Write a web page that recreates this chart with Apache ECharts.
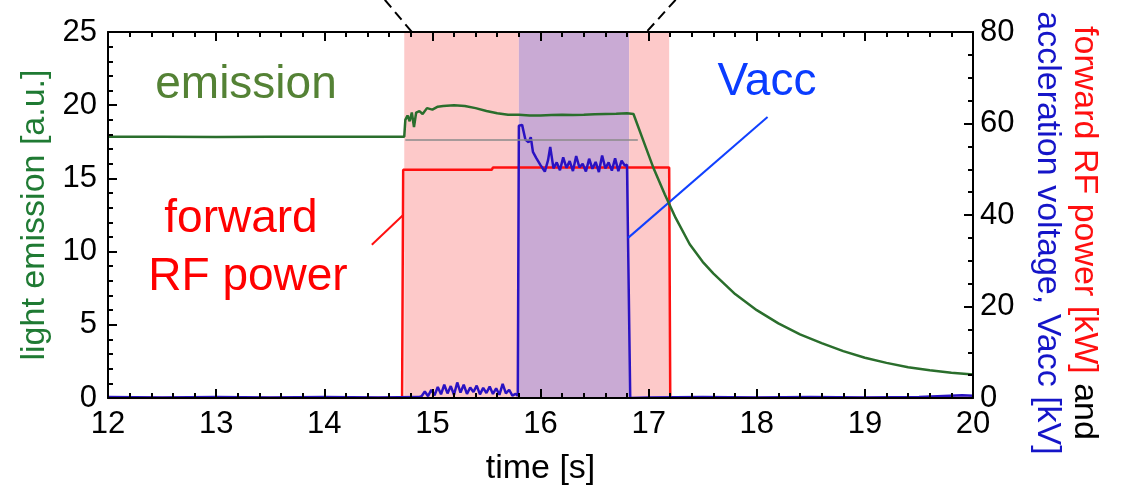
<!DOCTYPE html>
<html>
<head>
<meta charset="utf-8">
<script src="https://cdn.jsdelivr.net/npm/echarts@6/dist/echarts.min.js"></script>
<style>
html,body{margin:0;padding:0;background:#fff;}
#c{width:1123px;height:491px;}
</style>
</head>
<body>
<div id="c"></div>
<script>
// ---------- data ----------
const xTicks = [12, 13, 14, 15, 16, 17, 18, 19, 20];
const leftTicks = [0, 5, 10, 15, 20, 25];
const rightTicks = [0, 20, 40, 60, 80];

// light emission [a.u.] (left axis)
const emissionT = [12.0,12.5,13.0,13.5,14.0,14.5,14.74,14.75,14.77,14.79,14.81,14.83,14.85,14.88,14.91,14.95,15.0,15.05,15.1,15.2,15.3,15.4,15.5,15.6,15.7,15.8,15.9,16.0,16.1,16.2,16.3,16.4,16.5,16.6,16.7,16.8,16.86,16.95,17.04,17.15,17.25,17.38,17.5,17.6,17.8,18.0,18.2,18.4,18.6,18.8,19.0,19.2,19.4,19.6,19.8,20.0];
const emissionV = [17.85,17.84,17.83,17.85,17.84,17.85,17.85,19.0,19.3,18.9,19.5,18.5,19.5,19.6,19.4,19.8,19.7,19.9,19.95,20.0,19.95,19.8,19.6,19.45,19.35,19.35,19.3,19.3,19.33,19.35,19.33,19.35,19.38,19.4,19.42,19.45,19.4,17.6,15.8,13.9,12.3,10.5,9.3,8.5,7.1,6.0,5.1,4.35,3.75,3.2,2.75,2.4,2.1,1.9,1.72,1.6];

// forward RF power [kW] (right axis)
const rfT = [12.0,14.72,14.73,15.55,15.56,17.19,17.2,20.0];
const rfV = [0,0,49.9,49.9,50.4,50.4,0,0];

// acceleration voltage Vacc [kV] (right axis)
const vaccT = [12.0,12.5,13.0,13.5,14.0,14.5,14.88,14.9,14.93,14.96,14.99,15.02,15.05,15.08,15.11,15.14,15.17,15.2,15.23,15.26,15.29,15.32,15.35,15.38,15.41,15.44,15.47,15.5,15.53,15.56,15.59,15.62,15.65,15.68,15.71,15.74,15.77,15.79,15.8,15.83,15.86,15.89,15.91,15.93,15.96,16.0,16.04,16.07,16.09,16.12,16.15,16.18,16.21,16.24,16.27,16.3,16.33,16.36,16.39,16.42,16.45,16.48,16.51,16.54,16.57,16.6,16.63,16.66,16.69,16.72,16.75,16.78,16.8,16.83,17.0,17.5,18.0,18.5,19.0,19.5,19.9,20.0];
const vaccV = [0.2,0.1,0.2,0.1,0.2,0.1,0.2,0.4,1.4,0.4,1.8,0.6,2.4,0.8,2.9,1.0,2.6,0.7,3.4,1.2,2.9,0.9,2.3,1.3,2.7,0.8,2.2,1.1,2.5,0.9,2.1,0.7,3.1,1.0,1.8,0.5,0.9,0.5,59.5,59.7,56.5,55.9,57.0,53.8,52.5,50.9,49.5,52.0,54.9,50.2,51.5,49.8,52.6,50.3,51.8,49.6,52.9,50.4,51.2,49.5,52.3,50.1,51.6,49.4,53.0,50.2,51.5,49.7,52.4,49.6,51.9,50.8,51.0,0,0.1,0.2,0.1,0.2,0.1,0.2,0.6,0.5];

// shaded periods [s]
const rfOnPeriod = [14.74, 17.19];
const vaccOnPeriod = [15.80, 16.82];
// grey reference level of emission before RF
const emissionRef = {t0: 14.75, t1: 16.9, v: 17.65};

// annotation leader lines [t, kV] (right axis)
const rfLeader = [[14.44, 33.5], [14.73, 40.0]];
const vaccLeader = [[16.81, 35.0], [18.10, 61.4]];
// zoom indicator dashed lines [t, left-axis value]
const zoomLines = [[[14.56, 27.2], [14.81, 25]], [[17.25, 27.2], [16.98, 25]]];

// ---------- chart ----------
const FONT = '"Liberation Sans", Arial, Helvetica, sans-serif';
const zip = (a, b) => a.map((t, i) => [t, b[i]]);
const chart = echarts.init(document.getElementById('c'), null, {renderer: 'canvas'});

const axisCommon = {
  axisLine: {show: true, onZero: false, lineStyle: {color: '#000', width: 2}},
  axisTick: {show: true, inside: true, length: 9, lineStyle: {color: '#000', width: 2}},
  minorTick: {show: true, length: 5, lineStyle: {color: '#000', width: 2}},
  splitLine: {show: false},
  z: 10
};

const option = {
  animation: false,
  backgroundColor: '#fff',
  textStyle: {fontFamily: FONT},
  grid: {left: 108, right: 150, top: 32, bottom: 89, containLabel: false},
  xAxis: [
    Object.assign({}, axisCommon, {
      type: 'value', min: 12, max: 20, interval: 1, position: 'bottom',
      minorTick: Object.assign({}, axisCommon.minorTick, {splitNumber: 5}),
      axisLabel: {fontSize: 31, color: '#000', margin: 11, fontFamily: FONT},
      name: 'time [s]', nameLocation: 'middle', nameGap: 54,
      nameTextStyle: {fontSize: 34, color: '#000', fontFamily: FONT}
    }),
    Object.assign({}, axisCommon, {
      type: 'value', min: 12, max: 20, interval: 1, position: 'top',
      minorTick: Object.assign({}, axisCommon.minorTick, {splitNumber: 5}),
      axisLabel: {show: false}
    })
  ],
  yAxis: [
    Object.assign({}, axisCommon, {
      type: 'value', min: 0, max: 25, interval: 5, position: 'left',
      minorTick: Object.assign({}, axisCommon.minorTick, {splitNumber: 5}),
      axisLabel: {fontSize: 31, color: '#000', margin: 11, fontFamily: FONT},
      name: 'light emission [a.u.]', nameLocation: 'middle', nameGap: 43, nameRotate: 90,
      nameTextStyle: {fontSize: 34, color: '#1f7a33', fontFamily: FONT}
    }),
    Object.assign({}, axisCommon, {
      type: 'value', min: 0, max: 80, interval: 20, position: 'right',
      minorTick: Object.assign({}, axisCommon.minorTick, {splitNumber: 4}),
      axisLabel: {fontSize: 31, color: '#000', margin: 7, fontFamily: FONT}
    })
  ],
  series: [
    {
      type: 'line', name: 'periods', data: [], xAxisIndex: 0, yAxisIndex: 0, z: 1, silent: true,
      markArea: {
        silent: true,
        data: [
          [{xAxis: rfOnPeriod[0], itemStyle: {color: '#fdc9c9'}}, {xAxis: vaccOnPeriod[0]}],
          [{xAxis: vaccOnPeriod[0], itemStyle: {color: '#c9aad4'}}, {xAxis: vaccOnPeriod[1]}],
          [{xAxis: vaccOnPeriod[1], itemStyle: {color: '#fdc9c9'}}, {xAxis: rfOnPeriod[1]}]
        ]
      }
    },
    {
      type: 'line', name: 'forward RF power', data: zip(rfT, rfV), xAxisIndex: 0, yAxisIndex: 1,
      showSymbol: false, symbol: 'none', z: 3,
      lineStyle: {color: '#ff1010', width: 2.5},
      markLine: {
        silent: true, symbol: ['none', 'none'], label: {show: false},
        data: [
          [{coord: rfLeader[0], lineStyle: {color: '#ff1010', width: 2, type: 'solid'}}, {coord: rfLeader[1]}],
          [{coord: vaccLeader[0], lineStyle: {color: '#1040ff', width: 2, type: 'solid'}}, {coord: vaccLeader[1]}]
        ]
      }
    },
    {
      type: 'line', name: 'Vacc', data: zip(vaccT, vaccV), xAxisIndex: 0, yAxisIndex: 1,
      showSymbol: false, symbol: 'none', z: 4,
      lineStyle: {color: '#2a12c2', width: 2.5}
    },
    {
      type: 'line', name: 'emission', data: zip(emissionT, emissionV), xAxisIndex: 0, yAxisIndex: 0,
      showSymbol: false, symbol: 'none', z: 5,
      lineStyle: {color: '#2a6e2c', width: 2.5},
      markLine: {
        silent: true, symbol: ['none', 'none'], label: {show: false},
        lineStyle: {color: '#8a8a8a', width: 1.5, type: 'solid'},
        data: [[{coord: [emissionRef.t0, emissionRef.v]}, {coord: [emissionRef.t1, emissionRef.v]}]]
      }
    }
  ]
};
chart.setOption(option);

// ---------- graphics (annotations) ----------
function px(pt) { return chart.convertToPixel({xAxisIndex: 0, yAxisIndex: 0}, pt); }
const graphics = [];
zoomLines.forEach(function (ln) {
  const a = px(ln[0]), b = px(ln[1]);
  graphics.push({type: 'line', shape: {x1: a[0], y1: a[1], x2: b[0], y2: b[1]},
    style: {stroke: '#000', lineWidth: 2, lineDash: [10, 6]}, z: 20, silent: true});
});
const annFont = 46;
graphics.push(
  {type: 'text', x: 246, y: 85, z: 20, silent: true,
   style: {text: 'emission', fill: '#548235', font: annFont + 'px ' + FONT, textAlign: 'center', textVerticalAlign: 'middle'}},
  {type: 'text', x: 767, y: 82, z: 20, silent: true,
   style: {text: 'Vacc', fill: '#0a3cff', font: annFont + 'px ' + FONT, textAlign: 'center', textVerticalAlign: 'middle'}},
  {type: 'text', x: 241, y: 219, z: 20, silent: true,
   style: {text: 'forward', fill: '#ff0000', font: annFont + 'px ' + FONT, textAlign: 'center', textVerticalAlign: 'middle'}},
  {type: 'text', x: 248, y: 277, z: 20, silent: true,
   style: {text: 'RF power', fill: '#ff0000', font: annFont + 'px ' + FONT, textAlign: 'center', textVerticalAlign: 'middle'}},
  {type: 'text', x: 1066, y: 233, rotation: -Math.PI / 2, z: 20, silent: true,
   style: {
     text: '{r|forward RF power [kW]}{k| and}\n{b|accleration voltage, Vacc [kV]}',
     textAlign: 'center', textVerticalAlign: 'middle',
     font: '34px ' + FONT,
     rich: {
       r: {fill: '#ff1010', fontSize: 34, fontFamily: FONT, lineHeight: 37},
       k: {fill: '#000', fontSize: 34, fontFamily: FONT, lineHeight: 37},
       b: {fill: '#1515c8', fontSize: 34, fontFamily: FONT, lineHeight: 37}
     }
   }}
);
chart.setOption({graphic: graphics});
</script>
</body>
</html>
